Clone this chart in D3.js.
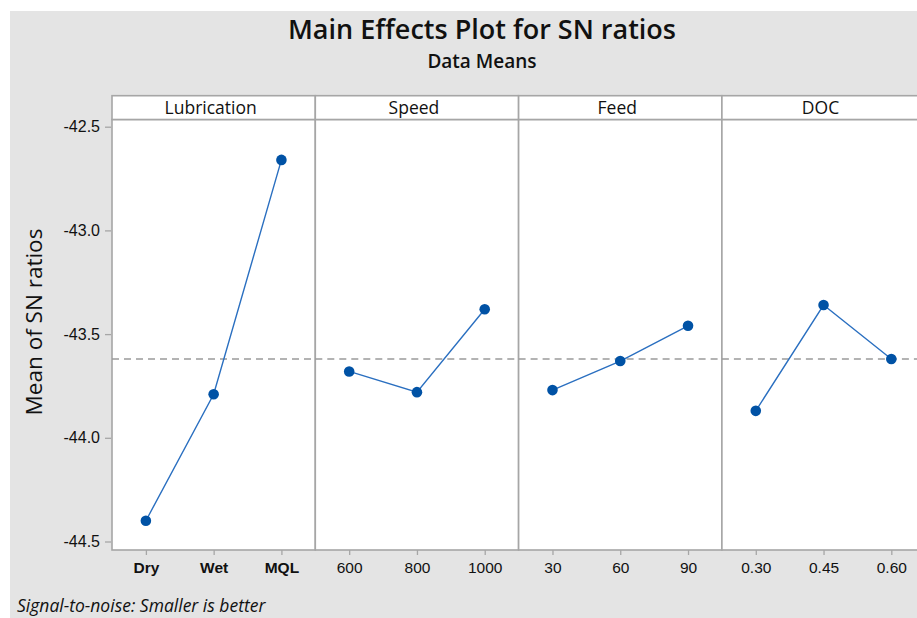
<!DOCTYPE html>
<html>
<head>
<meta charset="utf-8">
<script src="https://cdnjs.cloudflare.com/ajax/libs/d3/7.8.5/d3.min.js"></script>
<style>
  html, body { margin: 0; padding: 0; background: #fff; }
  svg { display: block; font-family: 'Open Sans', 'Noto Sans', sans-serif; }
  .tick text { fill: #111; }
</style>
</head>
<body>
<svg id="chart" width="917" height="618"></svg>
<script>
'use strict';

// factor names and their levels
const factors = ['Lubrication', 'Speed', 'Feed', 'DOC'];
const lubrication_levels = ['Dry', 'Wet', 'MQL'];
const lubrication_means = [-44.40, -43.79, -42.66];
const speed_levels = ['600', '800', '1000'];
const speed_means = [-43.68, -43.78, -43.38];
const feed_levels = ['30', '60', '90'];
const feed_means = [-43.77, -43.63, -43.46];
const doc_levels = ['0.30', '0.45', '0.60'];
const doc_means = [-43.87, -43.36, -43.62];
const y_ticks = [-42.5, -43.0, -43.5, -44.0, -44.5];
const grand_mean = -43.62;

const all_levels = [lubrication_levels, speed_levels, feed_levels, doc_levels];
const all_means = [lubrication_means, speed_means, feed_means, doc_means];

const width = 917, height = 618;
const plot = {left: 112, header: 95.7, top: 119.5, bottom: 550};
const panel_width = 203.3;
const line_color = '#2a6fc0', dot_color = '#0052a5', frame_color = '#a6a6a6';

const svg = d3.select('#chart');

// grey page, with the thin white margin on top and left
svg.append('rect').attr('width', width).attr('height', height).attr('fill', '#fff');
svg.append('rect')
    .attr('x', 10).attr('y', 11)
    .attr('width', width - 10).attr('height', height - 11)
    .attr('fill', '#e4e4e4');

svg.append('text')
    .attr('x', 482).attr('y', 39)
    .attr('text-anchor', 'middle')
    .attr('font-size', 27)
    .attr('font-weight', 600)
    .attr('fill', '#111')
    .text('Main Effects Plot for SN ratios');
svg.append('text')
    .attr('x', 482).attr('y', 68)
    .attr('text-anchor', 'middle')
    .attr('font-size', 19)
    .attr('font-weight', 600)
    .attr('fill', '#111')
    .text('Data Means');

const yScale = d3.scaleLinear()
    .domain([-44.5, -42.5])
    .range([541.5, 126.7]);

const yAxis = d3.axisLeft(yScale)
    .tickValues(y_ticks)
    .tickFormat(d => d.toFixed(1))
    .tickSizeInner(6)
    .tickSizeOuter(0)
    .tickPadding(5);

const panels = svg.append('g');

factors.forEach((name, i) => {
    const x0 = plot.left + i * panel_width;
    const g = panels.append('g').attr('transform', `translate(${x0},0)`);

    g.append('rect')
        .attr('x', 0).attr('y', plot.top)
        .attr('width', panel_width).attr('height', plot.bottom - plot.top)
        .attr('fill', '#fff')
        .attr('stroke', frame_color).attr('stroke-width', 1.6);
    g.append('rect')
        .attr('x', 0).attr('y', plot.header)
        .attr('width', panel_width).attr('height', plot.top - plot.header)
        .attr('fill', '#fff')
        .attr('stroke', frame_color).attr('stroke-width', 1.6);
    g.append('text')
        .attr('x', panel_width / 2 - 3).attr('y', plot.top - 6)
        .attr('text-anchor', 'middle')
        .attr('font-size', 17.5)
        .attr('fill', '#111')
        .text(name);

    const xScale = d3.scalePoint()
        .domain(all_levels[i])
        .range([0, panel_width])
        .padding(0.5);

    const xAxis = d3.axisBottom(xScale)
        .tickSizeInner(5)
        .tickSizeOuter(0)
        .tickPadding(7);
    const xg = g.append('g')
        .attr('transform', `translate(0,${plot.bottom})`)
        .call(xAxis);
    xg.select('.domain').remove();
    xg.selectAll('.tick line').attr('stroke', frame_color).attr('stroke-width', 1.3);
    xg.selectAll('.tick text').attr('font-size', 15.5).attr('font-family', 'inherit');
    if (i === 0) xg.selectAll('.tick text').attr('font-weight', 600);

    // grand mean reference line
    g.append('line')
        .attr('x1', 0).attr('x2', panel_width)
        .attr('y1', yScale(grand_mean)).attr('y2', yScale(grand_mean))
        .attr('stroke', '#9a9a9a').attr('stroke-width', 1.6)
        .attr('stroke-dasharray', '7,5');

    const pts = all_levels[i].map((lv, k) => [lv, all_means[i][k]]);
    g.append('path')
        .datum(pts)
        .attr('fill', 'none')
        .attr('stroke', line_color)
        .attr('stroke-width', 1.4)
        .attr('d', d3.line().x(d => xScale(d[0])).y(d => yScale(d[1])));
    g.selectAll('.point')
        .data(pts)
        .enter().append('circle')
        .attr('class', 'point')
        .attr('cx', d => xScale(d[0]))
        .attr('cy', d => yScale(d[1]))
        .attr('r', 5.3)
        .attr('fill', dot_color);
});

const yg = svg.append('g')
    .attr('transform', `translate(${plot.left - 1},0)`)
    .call(yAxis);
yg.select('.domain').remove();
yg.selectAll('.tick line').attr('stroke', frame_color).attr('stroke-width', 1.3);
yg.selectAll('.tick text').attr('font-size', 16).attr('font-family', 'inherit');

svg.append('text')
    .attr('transform', `translate(42,322) rotate(-90)`)
    .attr('text-anchor', 'middle')
    .attr('font-size', 22.5)
    .attr('font-weight', 500)
    .attr('fill', '#111')
    .text('Mean of SN ratios');

svg.append('text')
    .attr('x', 17).attr('y', 612)
    .attr('font-size', 17.5)
    .attr('font-style', 'italic')
    .attr('fill', '#111')
    .text('Signal-to-noise: Smaller is better');
</script>
</body>
</html>
